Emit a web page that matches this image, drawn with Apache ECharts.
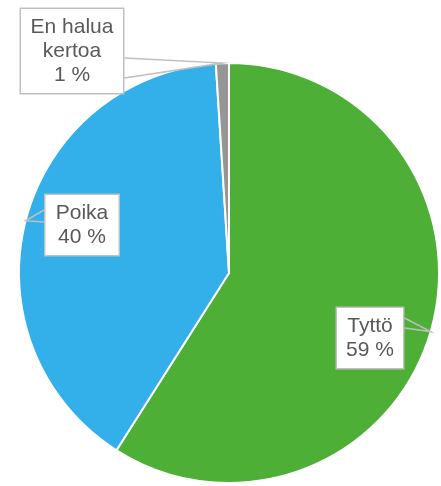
<!DOCTYPE html>
<html>
<head>
<meta charset="utf-8">
<script src="https://cdn.jsdelivr.net/npm/echarts@6/dist/echarts.min.js"></script>
<style>
  html, body { margin: 0; padding: 0; background: #fff; }
  #main { width: 441px; height: 486px; }
</style>
</head>
<body>
<div id="main"></div>
<script>
// vastaukset (%)
const names = ["Tyttö", "Poika", "En halua kertoa"];
const values = [59, 40, 1];
const colors = ["#4daf36", "#33afe9", "#969696"];
// laatikoiden paikat, tekstileveydet ja kärjen kannan y-välit
const labelSpots = [[370, 338], [82, 225], [72, 51]];
const labelWidths = [46, 53, 82];
const pointerBases = [[318, 328], [210, 222], [58, 78]];

const myChart = echarts.init(document.getElementById("main"));

const pieBase = {
  type: "pie",
  center: [229, 273],
  radius: 210,
  startAngle: 90,
  clockwise: true,
};

const option = {
  animation: false,
  series: [
    // itse sektorit
    Object.assign({}, pieBase, {
      z: 2,
      itemStyle: { borderColor: "#fff", borderWidth: 2 },
      label: { show: false },
      labelLine: { show: false },
      data: names.map((n, i) => ({ name: n, value: values[i], itemStyle: { color: colors[i] } })),
    }),
    // läpinäkyvä kopio päällä: puhekuplat (muuten viivat jäävät sektorien alle)
    Object.assign({}, pieBase, {
      z: 10,
      silent: true,
      itemStyle: { color: "rgba(0,0,0,0)", borderWidth: 0 },
      label: {
        show: true,
        position: "outside",
        overflow: "none",
        formatter: (p) => p.name.replace(" kertoa", "\nkertoa") + "\n" + p.value + " %",
        fontFamily: "Liberation Sans, Arial, sans-serif",
        fontSize: 21,
        lineHeight: 24,
        color: "#595959",
        align: "center",
        backgroundColor: "#fff",
        borderColor: "#bfbfbf",
        borderWidth: 1.5,
        padding: [6, 10],
      },
      labelLine: {
        show: true,
        length: 5,
        length2: 5,
        lineStyle: { color: "#bfbfbf", width: 1.5 },
      },
      labelLayout: (params) => {
        const i = params.dataIndex;
        const spot = labelSpots[i];
        const r = params.labelRect;
        const a = params.labelLinePoints ? params.labelLinePoints[0] : null;
        const out = { x: spot[0], y: spot[1], align: "center", verticalAlign: "middle" };
        if (a) {
          // kärki kiinni laatikon lähimpään reunaan
          const ex = a[0] < spot[0] ? spot[0] - r.width / 2 : spot[0] + r.width / 2;
          out.labelLinePoints = [[ex, pointerBases[i][0]], a, [ex, pointerBases[i][1]]];
        }
        return out;
      },
      data: names.map((n, i) => ({ name: n, value: values[i], label: { width: labelWidths[i] } })),
    }),
  ],
};

option && myChart.setOption(option);
</script>
</body>
</html>
